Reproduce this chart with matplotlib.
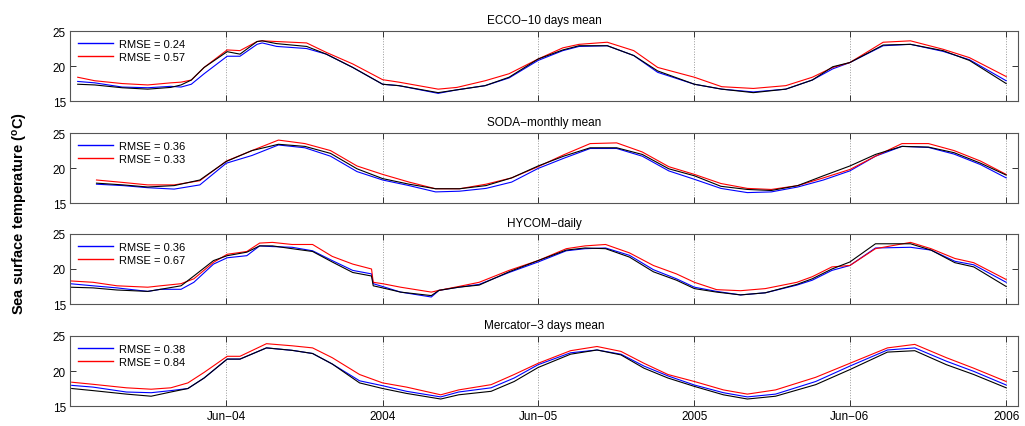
import matplotlib.pyplot as plt
import matplotlib.dates as mdates
import numpy as np

plt.rcParams["font.family"] = ["Liberation Sans", "DejaVu Sans"]

# ECCO - 10 days mean
ecco_dates = ["2003-12-10", "2003-12-30", "2004-01-31", "2004-03-01", "2004-03-28", "2004-04-09",
              "2004-04-21", "2004-05-06", "2004-06-02", "2004-06-17", "2004-07-07", "2004-07-13",
              "2004-07-30", "2004-09-03", "2004-09-26", "2004-10-27", "2004-12-01", "2004-12-20",
              "2005-02-04", "2005-02-26", "2005-03-31", "2005-04-28", "2005-06-01", "2005-06-30",
              "2005-07-19", "2005-08-21", "2005-09-21", "2005-10-19", "2005-12-01", "2006-01-02",
              "2006-02-08", "2006-03-18", "2006-04-18", "2006-05-12", "2006-06-01", "2006-07-10",
              "2006-08-11", "2006-09-18", "2006-10-19", "2006-12-01"]
ecco_obs = [17.4, 17.3, 16.9, 16.7, 16.95, 17.3, 18.0, 19.8, 22.05, 21.7, 23.5, 23.6,
            23.2, 22.8, 21.7, 19.8, 17.4, 17.2, 16.2, 16.6, 17.2, 18.4, 21.0, 22.3,
            22.9, 22.9, 21.5, 19.3, 17.4, 16.7, 16.2, 16.7, 18.0, 19.9, 20.5, 23.0,
            23.1, 22.2, 20.8, 17.5]
ecco_mod1 = [17.8, 17.6, 17.0, 16.9, 17.1, 17.0, 17.4, 18.9, 21.4, 21.4, 23.1, 23.3,
             22.8, 22.5, 21.7, 19.8, 17.4, 17.2, 16.1, 16.6, 17.2, 18.3, 20.8, 22.2,
             22.8, 22.9, 21.5, 19.1, 17.4, 16.7, 16.3, 16.7, 18.0, 19.6, 20.5, 22.9,
             23.1, 22.1, 20.9, 17.9]
ecco_mod2 = [18.4, 17.9, 17.5, 17.3, 17.6, 17.7, 18.0, 19.8, 22.3, 22.2, 23.5, 23.6,
             23.5, 23.3, 21.95, 20.3, 18.05, 17.7, 16.7, 16.95, 17.9, 18.9, 21.0, 22.6,
             23.1, 23.4, 22.2, 19.8, 18.4, 17.05, 16.8, 17.2, 18.4, 19.8, 20.5, 23.4,
             23.6, 22.4, 21.2, 18.5]

# SODA - monthly mean (first of each month, Jan 2004 - Dec 2006)
soda_dates = ["%d-%02d-01" % (y, m) for y in (2004, 2005, 2006) for m in range(1, 13)]
soda_obs = [17.85, 17.6, 17.3, 17.5, 18.3, 20.95, 22.5, 23.4, 23.1, 22.1, 19.9, 18.5,
            17.7, 17.05, 17.05, 17.5, 18.6, 20.3, 21.7, 22.9, 22.9, 21.95, 19.9, 18.9,
            17.4, 16.95, 16.8, 17.5, 18.9, 20.3, 21.95, 23.1, 23.0, 22.2, 20.7, 19.0]
soda_mod1 = [17.7, 17.5, 17.2, 17.0, 17.6, 20.7, 21.8, 23.3, 22.9, 21.7, 19.5, 18.3,
             17.5, 16.6, 16.7, 17.1, 18.0, 19.95, 21.4, 22.8, 22.8, 21.7, 19.6, 18.4,
             17.1, 16.5, 16.6, 17.3, 18.3, 19.6, 21.7, 23.1, 22.95, 22.0, 20.5, 18.6]
soda_mod2 = [18.3, 17.95, 17.6, 17.6, 18.2, 21.0, 22.5, 24.0, 23.5, 22.5, 20.3, 19.1,
             18.0, 17.05, 17.05, 17.7, 18.6, 20.2, 21.9, 23.5, 23.6, 22.3, 20.2, 19.1,
             17.8, 17.1, 16.95, 17.5, 18.6, 19.8, 21.7, 23.5, 23.5, 22.5, 21.0, 19.1]

# HYCOM - daily
hycom_dates = ["2003-12-01", "2003-12-28", "2004-01-25", "2004-03-01", "2004-03-16", "2004-04-09",
               "2004-04-24", "2004-05-17", "2004-06-02", "2004-06-25", "2004-07-10", "2004-07-25",
               "2004-08-17", "2004-09-10", "2004-10-03", "2004-10-27", "2004-11-18", "2004-11-20",
               "2004-12-01", "2004-12-22", "2005-01-27", "2005-02-05", "2005-02-28", "2005-03-24",
               "2005-04-28", "2005-06-01", "2005-07-04", "2005-07-26", "2005-08-19", "2005-09-16",
               "2005-10-14", "2005-11-10", "2005-12-01", "2005-12-27", "2006-01-24", "2006-02-22",
               "2006-03-31", "2006-04-18", "2006-05-11", "2006-06-01", "2006-07-01", "2006-08-11",
               "2006-09-04", "2006-10-02", "2006-10-24", "2006-12-01"]
hycom_obs = [17.4, 17.3, 17.0, 16.8, 17.1, 17.6, 19.0, 21.2, 21.9, 22.4, 23.3, 23.3,
             22.9, 22.5, 21.0, 19.5, 19.0, 17.6, 17.3, 16.7, 16.2, 16.95, 17.4, 17.7,
             19.6, 21.2, 22.7, 23.0, 22.9, 21.7, 19.6, 18.4, 17.2, 16.7, 16.3, 16.6,
             17.8, 18.6, 20.0, 21.0, 23.6, 23.6, 22.7, 20.9, 20.3, 17.5]
hycom_mod1 = [17.9, 17.6, 17.3, 16.8, 17.1, 17.1, 18.1, 20.7, 21.6, 21.9, 23.3, 23.2,
              23.1, 22.6, 21.2, 19.8, 19.3, 17.9, 17.5, 16.7, 16.0, 16.95, 17.4, 17.8,
              19.5, 21.0, 22.6, 22.9, 23.0, 21.95, 19.9, 18.6, 17.4, 16.8, 16.3, 16.6,
              17.7, 18.4, 19.8, 20.5, 23.0, 23.1, 22.7, 21.1, 20.6, 18.1]
hycom_mod2 = [18.3, 18.1, 17.6, 17.4, 17.6, 17.9, 18.6, 20.95, 22.1, 22.5, 23.7, 23.8,
              23.5, 23.5, 21.8, 20.7, 20.0, 18.1, 17.9, 17.4, 16.7, 16.95, 17.5, 18.1,
              19.8, 21.2, 22.9, 23.3, 23.5, 22.3, 20.5, 19.3, 18.1, 17.05, 16.9, 17.2,
              18.1, 18.9, 20.3, 20.5, 22.9, 23.8, 22.9, 21.5, 20.9, 18.5]

# Mercator - 3 days mean
merc_dates = ["2003-12-03", "2003-12-28", "2004-02-05", "2004-03-05", "2004-03-28", "2004-04-17",
              "2004-05-06", "2004-06-02", "2004-06-17", "2004-07-18", "2004-08-17", "2004-09-10",
              "2004-10-03", "2004-11-04", "2004-12-01", "2004-12-29", "2005-02-07", "2005-02-28",
              "2005-04-07", "2005-05-04", "2005-06-01", "2005-07-09", "2005-08-09", "2005-09-06",
              "2005-10-03", "2005-10-31", "2005-12-01", "2006-01-04", "2006-02-01", "2006-03-06",
              "2006-04-22", "2006-06-01", "2006-07-15", "2006-08-16", "2006-09-22", "2006-10-24",
              "2006-12-01"]
merc_obs = [17.5, 17.2, 16.7, 16.4, 17.0, 17.5, 19.0, 21.7, 21.7, 23.3, 22.95, 22.5,
            21.0, 18.3, 17.5, 16.8, 16.0, 16.6, 17.1, 18.5, 20.5, 22.4, 23.0, 22.3,
            20.4, 19.0, 17.8, 16.6, 16.0, 16.4, 18.05, 20.2, 22.7, 22.9, 20.9, 19.5,
            17.6]
merc_mod1 = [17.95, 17.7, 17.0, 16.9, 17.2, 17.5, 19.0, 21.7, 21.7, 23.3, 22.95, 22.5,
             21.0, 18.6, 17.9, 17.1, 16.3, 17.0, 17.6, 19.0, 20.9, 22.6, 23.0, 22.4,
             20.7, 19.3, 18.0, 16.9, 16.3, 16.7, 18.5, 20.7, 23.0, 23.3, 21.4, 19.95,
             18.0]
merc_mod2 = [18.4, 18.1, 17.6, 17.4, 17.6, 18.3, 19.8, 22.1, 22.1, 23.9, 23.6, 23.3,
             21.9, 19.5, 18.3, 17.7, 16.6, 17.3, 18.05, 19.5, 21.1, 22.9, 23.5, 22.8,
             21.1, 19.5, 18.5, 17.3, 16.7, 17.3, 19.1, 21.1, 23.3, 23.8, 21.9, 20.4,
             18.5]

titles = ["ECCO\u221210 days mean", "SODA\u2212monthly mean", "HYCOM\u2212daily",
          "Mercator\u22123 days mean"]
rmse_mod1 = [0.24, 0.36, 0.36, 0.38]
rmse_mod2 = [0.57, 0.33, 0.67, 0.84]

tick_dates = ["2004-06-01", "2004-12-01", "2005-06-01", "2005-12-01", "2006-06-01", "2006-12-01"]
tick_labels = ["Jun\u221204", "2004", "Jun\u221205", "2005", "Jun\u221206", "2006"]

panels = [
    (ecco_dates, ecco_obs, ecco_mod1, ecco_mod2),
    (soda_dates, soda_obs, soda_mod1, soda_mod2),
    (hycom_dates, hycom_obs, hycom_mod1, hycom_mod2),
    (merc_dates, merc_obs, merc_mod1, merc_mod2),
]

fig = plt.figure(figsize=(10.25, 4.27), dpi=100)
bottoms = [0.761, 0.522, 0.2857, 0.0468]
ticks = mdates.datestr2num(tick_dates)

for i, (dates, obs, m1, m2) in enumerate(panels):
    ax = fig.add_axes([0.0683, bottoms[i], 0.925, 0.164])
    t = mdates.datestr2num(dates)
    ax.plot(t, m1, color="blue", lw=0.8, label="RMSE = %.2f" % rmse_mod1[i])
    ax.plot(t, m2, color="red", lw=0.8, label="RMSE = %.2f" % rmse_mod2[i])
    ax.plot(t, obs, color="black", lw=0.8)

    ax.set_xlim(mdates.datestr2num("2003-12-01"), mdates.datestr2num("2006-12-15"))
    ax.set_ylim(15, 25)
    ax.set_yticks([15, 20, 25])
    ax.set_xticks(ticks)
    if i == 3:
        ax.set_xticklabels(tick_labels)
    else:
        ax.set_xticklabels([])
    ax.grid(axis="x", color="#999999", linestyle=":", linewidth=0.7)
    ax.tick_params(direction="in", top=True, right=True, length=4, width=0.7,
                   labelsize=8.5, pad=3, color="#333333")
    for s in ax.spines.values():
        s.set_color("#555555")
        s.set_linewidth(0.8)
    ax.set_title(titles[i], fontsize=8.5, pad=6)
    leg = ax.legend(loc="upper left", frameon=False, fontsize=8, handlelength=3.2,
                    handletextpad=0.5, labelspacing=0.25, borderaxespad=0.3)
    for h in leg.get_lines():
        h.set_linewidth(1.0)

fig.text(0.02, 0.5, "Sea surface temperature ($\\mathregular{^o}$C)", rotation=90,
         va="center", ha="center", fontsize=10.5, fontweight="bold")

plt.savefig("out.png", dpi=100)
